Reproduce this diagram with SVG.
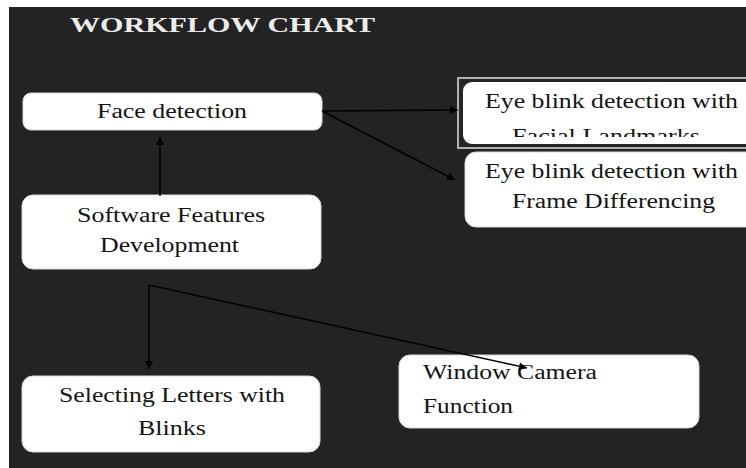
<svg xmlns="http://www.w3.org/2000/svg" width="746" height="468" viewBox="0 0 746 468">
<style>
.bg{fill:#232323}
.box{fill:#ffffff;stroke:#d8d8d8;stroke-width:1}
.t{font-family:"Liberation Serif","Times New Roman",serif;font-size:20px;fill:#141414}
.title{font-family:"Liberation Serif","Times New Roman",serif;font-size:21px;font-weight:bold;fill:#ececec}
.c{fill:none;stroke:#000;stroke-width:1.5}
</style>
<defs>
<marker id="ah" viewBox="0 0 10 10" refX="10" refY="5" markerWidth="10" markerHeight="8" markerUnits="userSpaceOnUse" orient="auto">
<path d="M0,0 L10,5 L0,10 z" fill="#000"/>
</marker>
<clipPath id="clip1"><rect x="463" y="82" width="290" height="55"/></clipPath>
</defs>
<rect x="0" y="0" width="746" height="468" fill="#ffffff"/>
<rect class="bg" x="9" y="7" width="737" height="461"/>
<text class="title" x="70" y="32" textLength="305" lengthAdjust="spacingAndGlyphs">WORKFLOW CHART</text>

<g id="face-detection">
<rect class="box" x="23" y="93" width="299" height="37" rx="8"/>
<text class="t" x="97" y="118" textLength="150" lengthAdjust="spacingAndGlyphs">Face detection</text>
</g>
<g id="software-features">
<rect class="box" x="22" y="195" width="299" height="74" rx="11"/>
<text class="t" x="77" y="222" textLength="188" lengthAdjust="spacingAndGlyphs">Software Features</text>
<text class="t" x="100" y="252" textLength="139" lengthAdjust="spacingAndGlyphs">Development</text>
</g>
<g id="eye-blink-landmarks">
<rect x="458" y="78" width="300" height="70" fill="#262626" stroke="#b0b0b0" stroke-width="2"/>
<rect x="463" y="82" width="295" height="62" rx="9" fill="#ffffff"/>
<text class="t" x="485" y="108" textLength="253" lengthAdjust="spacingAndGlyphs">Eye blink detection with</text>
<text class="t" x="512" y="143" textLength="188" lengthAdjust="spacingAndGlyphs" clip-path="url(#clip1)">Facial Landmarks</text>
</g>
<g id="eye-blink-frame">
<rect class="box" x="465" y="152" width="295" height="75" rx="11"/>
<text class="t" x="485" y="178" textLength="253" lengthAdjust="spacingAndGlyphs">Eye blink detection with</text>
<text class="t" x="512" y="208" textLength="203" lengthAdjust="spacingAndGlyphs">Frame Differencing</text>
</g>
<g id="selecting-letters">
<rect class="box" x="22" y="376" width="298" height="76" rx="11"/>
<text class="t" x="59" y="402" textLength="226" lengthAdjust="spacingAndGlyphs">Selecting Letters with</text>
<text class="t" x="138" y="435" textLength="68" lengthAdjust="spacingAndGlyphs">Blinks</text>
</g>
<g id="window-camera">
<rect class="box" x="399" y="355" width="300" height="73" rx="11"/>
<text class="t" x="423" y="379" textLength="174" lengthAdjust="spacingAndGlyphs">Window Camera</text>
<text class="t" x="423" y="413" textLength="90" lengthAdjust="spacingAndGlyphs">Function</text>
</g>

<g id="connectors">
<line class="c" x1="160" y1="196" x2="160" y2="137" marker-end="url(#ah)"/>
<line class="c" x1="322" y1="111" x2="458" y2="110" marker-end="url(#ah)"/>
<line class="c" x1="322" y1="111" x2="455" y2="180" marker-end="url(#ah)"/>
<line class="c" x1="149" y1="285" x2="149" y2="369" marker-end="url(#ah)"/>
<line class="c" x1="149" y1="285" x2="527" y2="368" marker-end="url(#ah)"/>
</g>
</svg>
